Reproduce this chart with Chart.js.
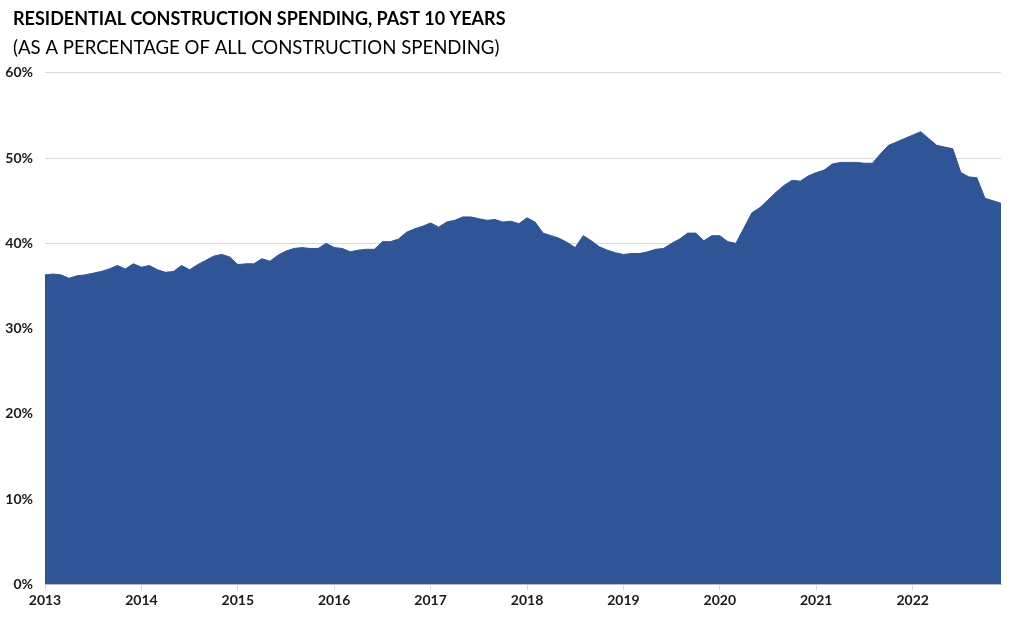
<!DOCTYPE html>
<html>
<head>
<meta charset="utf-8">
<script src="https://cdn.jsdelivr.net/npm/chart.js@4"></script>
<style>
  html, body { margin: 0; padding: 0; background: #fff; }
  #wrap { width: 1024px; height: 617px; position: relative; }
</style>
</head>
<body>
<div id="wrap"><canvas id="residentialChart"></canvas></div>
<script>
// Residential share of all construction spending, monthly Jan 2013 - Dec 2022
const years = [2013, 2014, 2015, 2016, 2017, 2018, 2019, 2020, 2021, 2022];
const months = ["Jan", "Feb", "Mar", "Apr", "May", "Jun", "Jul", "Aug", "Sep", "Oct", "Nov", "Dec"];

const share2013 = [36.3, 36.4, 36.3, 35.9, 36.2, 36.3, 36.5, 36.7, 37.0, 37.4, 37.0, 37.6];
const share2014 = [37.2, 37.4, 36.9, 36.6, 36.7, 37.4, 36.9, 37.5, 38.0, 38.5, 38.7, 38.4];
const share2015 = [37.5, 37.6, 37.6, 38.2, 37.9, 38.6, 39.1, 39.4, 39.5, 39.4, 39.4, 40.0];
const share2016 = [39.5, 39.4, 39.0, 39.2, 39.3, 39.3, 40.2, 40.2, 40.5, 41.3, 41.7, 42.0];
const share2017 = [42.4, 41.9, 42.5, 42.7, 43.1, 43.1, 42.9, 42.7, 42.8, 42.5, 42.6, 42.3];
const share2018 = [43.0, 42.5, 41.2, 40.9, 40.6, 40.1, 39.5, 40.9, 40.3, 39.6, 39.2, 38.9];
const share2019 = [38.7, 38.8, 38.8, 39.0, 39.3, 39.4, 40.0, 40.5, 41.2, 41.2, 40.3, 40.9];
const share2020 = [40.9, 40.2, 40.0, 41.8, 43.6, 44.2, 45.1, 46.0, 46.8, 47.4, 47.3, 47.9];
const share2021 = [48.3, 48.6, 49.3, 49.5, 49.5, 49.5, 49.4, 49.4, 50.5, 51.5, 51.9, 52.3];
const share2022 = [52.7, 53.1, 52.3, 51.5, 51.3, 51.1, 48.3, 47.8, 47.7, 45.3, 45.0, 44.7];

const yTicks = [0, 10, 20, 30, 40, 50, 60];

const labels = [];
years.forEach(function (y) {
  months.forEach(function (m) {
    labels.push(m + " " + y);
  });
});

const values = [].concat(
  share2013, share2014, share2015, share2016, share2017,
  share2018, share2019, share2020, share2021, share2022
);

const fontFamily = "Lato, 'Open Sans', sans-serif";

// push title + subtitle in from the left edge (axis labels need the room)
const titleIndent = {
  id: "titleIndent",
  afterLayout: function (chart) {
    chart.boxes.forEach(function (box) {
      if (box.options && box.options.text !== undefined && box.isHorizontal()) {
        box.left = 13;
      }
    });
  },
};

const ctx = document.getElementById("residentialChart").getContext("2d");
const residentialChart = new Chart(ctx, {
  type: "line",
  data: {
    labels: labels,
    datasets: [
      {
        data: values,
        backgroundColor: "#2f5597",
        borderColor: "#2f5597",
        borderWidth: 1,
        pointRadius: 0,
        fill: "origin",
        tension: 0,
      },
    ],
  },
  plugins: [titleIndent],
  options: {
    responsive: true,
    maintainAspectRatio: false,
    animation: false,
    layout: {
      padding: { left: 0, right: 23, top: 0, bottom: 6 },
    },
    plugins: {
      legend: { display: false },
      tooltip: { enabled: false },
      title: {
        display: true,
        text: "RESIDENTIAL CONSTRUCTION SPENDING, PAST 10 YEARS",
        align: "start",
        color: "#000",
        font: { family: fontFamily, size: 18, weight: "bold" },
        padding: { top: 8, bottom: 7 },
      },
      subtitle: {
        display: true,
        text: "(AS A PERCENTAGE OF ALL CONSTRUCTION SPENDING)",
        align: "start",
        color: "#000",
        font: { family: fontFamily, size: 18.6, weight: "normal" },
        padding: { top: 0, bottom: 14 },
      },
    },
    scales: {
      x: {
        type: "category",
        border: { display: true, color: "#bfbfbf" },
        grid: {
          drawOnChartArea: false,
          drawTicks: true,
          tickLength: 6,
          color: "#d9d9d9",
        },
        ticks: {
          autoSkip: false,
          maxRotation: 0,
          padding: 2,
          color: "#1a1a1a",
          font: { family: fontFamily, size: 14, weight: "bold" },
          callback: function (val, idx) {
            // only January gets a tick and a label
            return idx % 12 === 0 ? String(years[idx / 12]) : null;
          },
        },
      },
      y: {
        min: 0,
        max: 60,
        border: { display: false },
        grid: { color: "#d9d9d9", drawTicks: false },
        afterBuildTicks: function (scale) {
          scale.ticks = yTicks.map(function (v) { return { value: v }; });
        },
        afterFit: function (scale) {
          scale.width = 45;
        },
        ticks: {
          padding: 12,
          color: "#1a1a1a",
          font: { family: fontFamily, size: 14, weight: "bold" },
          callback: function (v) {
            return v + "%";
          },
        },
      },
    },
  },
});
</script>
</body>
</html>
